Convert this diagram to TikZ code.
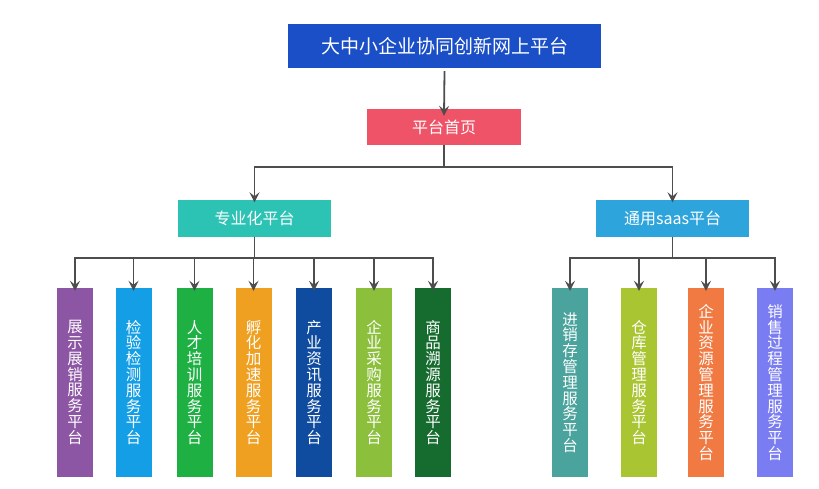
\documentclass[tikz,border=0pt]{standalone}
\usepackage{fontspec}
\setmainfont{Noto Sans CJK SC}
\usetikzlibrary{arrows.meta}
\definecolor{ctop}{HTML}{1B4FC7}
\definecolor{chome}{HTML}{EF5368}
\definecolor{czy}{HTML}{2CC3B5}
\definecolor{cty}{HTML}{2EA4DD}
\definecolor{cb1}{HTML}{8C56A4}
\definecolor{cb2}{HTML}{139EE6}
\definecolor{cb3}{HTML}{1FB044}
\definecolor{cb4}{HTML}{EFA020}
\definecolor{cb5}{HTML}{0F4B9E}
\definecolor{cb6}{HTML}{8CC03C}
\definecolor{cb7}{HTML}{166B2E}
\definecolor{cr1}{HTML}{4AA39C}
\definecolor{cr2}{HTML}{A9C531}
\definecolor{cr3}{HTML}{F07A42}
\definecolor{cr4}{HTML}{7A7CF2}
\definecolor{cline}{HTML}{4D4D4D}
\tikzset{
  hbox/.style={draw=none, text=white, inner sep=0pt, font=\fontsize{16}{18}\selectfont},
  bar/.style={draw=none, text=white, inner sep=0pt, minimum width=36pt, minimum height=189pt,
    align=center, font=\fontsize{15.5}{15.8}\selectfont},
  conn/.style={draw=cline, line width=1.8pt},
  arr/.style={conn, -{Stealth[length=10pt,width=10pt,inset=4pt]}}
}
\begin{document}
\begin{tikzpicture}[x=1pt,y=-1pt]
\useasboundingbox[fill=white] (0,0) rectangle (819,488);
% top levels
\node[hbox, fill=ctop, minimum width=313pt, minimum height=44pt, font=\fontsize{19}{21}\selectfont] (top) at (444.5,46) {大中小企业协同创新网上平台};
\node[hbox, fill=chome, minimum width=154pt, minimum height=36pt] (home) at (444,127) {平台首页};
\node[hbox, fill=czy, minimum width=153pt, minimum height=37pt] (zy) at (254.5,218) {专业化平台};
\node[hbox, fill=cty, minimum width=153pt, minimum height=37pt] (ty) at (672.5,218) {通用saas平台};
% left bars
\node[bar, fill=cb1] (b1) at (75,382.5) {展\\示\\展\\销\\服\\务\\平\\台};
\node[bar, fill=cb2] (b2) at (133.5,382.5) {检\\验\\检\\测\\服\\务\\平\\台};
\node[bar, fill=cb3] (b3) at (194.5,382.5) {人\\才\\培\\训\\服\\务\\平\\台};
\node[bar, fill=cb4] (b4) at (253.5,382.5) {孵\\化\\加\\速\\服\\务\\平\\台};
\node[bar, fill=cb5] (b5) at (314,382.5) {产\\业\\资\\讯\\服\\务\\平\\台};
\node[bar, fill=cb6] (b6) at (374,382.5) {企\\业\\采\\购\\服\\务\\平\\台};
\node[bar, fill=cb7] (b7) at (433,382.5) {商\\品\\溯\\源\\服\\务\\平\\台};
% right bars
\node[bar, fill=cr1] (r1) at (570,382.5) {进\\销\\存\\管\\理\\服\\务\\平\\台};
\node[bar, fill=cr2] (r2) at (639,382.5) {仓\\库\\管\\理\\服\\务\\平\\台};
\node[bar, fill=cr3] (r3) at (706,382.5) {企\\业\\资\\源\\管\\理\\服\\务\\平\\台};
\node[bar, fill=cr4] (r4) at (775,382.5) {销\\售\\过\\程\\管\\理\\服\\务\\平\\台};
% connectors
\draw[arr] (top.south) ++(0,3) -- ([yshift=-7pt]home.north);
\coordinate (j1) at (444,167);
\draw[conn] (home.south) -- (j1);
\draw[arr] (j1) -| ([yshift=-3pt]zy.north);
\draw[arr] (j1) -| ([yshift=-3pt]ty.north);
\coordinate (j2) at (254.5,258);
\draw[conn] (zy.south) -- (j2);
\foreach \b in {b1,b2,b3,b4,b5,b6,b7}{
  \draw[arr] (j2) -| ([yshift=-3pt]\b.north);
}
\coordinate (j3) at (672.5,258);
\draw[conn] (ty.south) -- (j3);
\foreach \b in {r1,r2,r3,r4}{
  \draw[arr] (j3) -| ([yshift=-3pt]\b.north);
}
\end{tikzpicture}
\end{document}
